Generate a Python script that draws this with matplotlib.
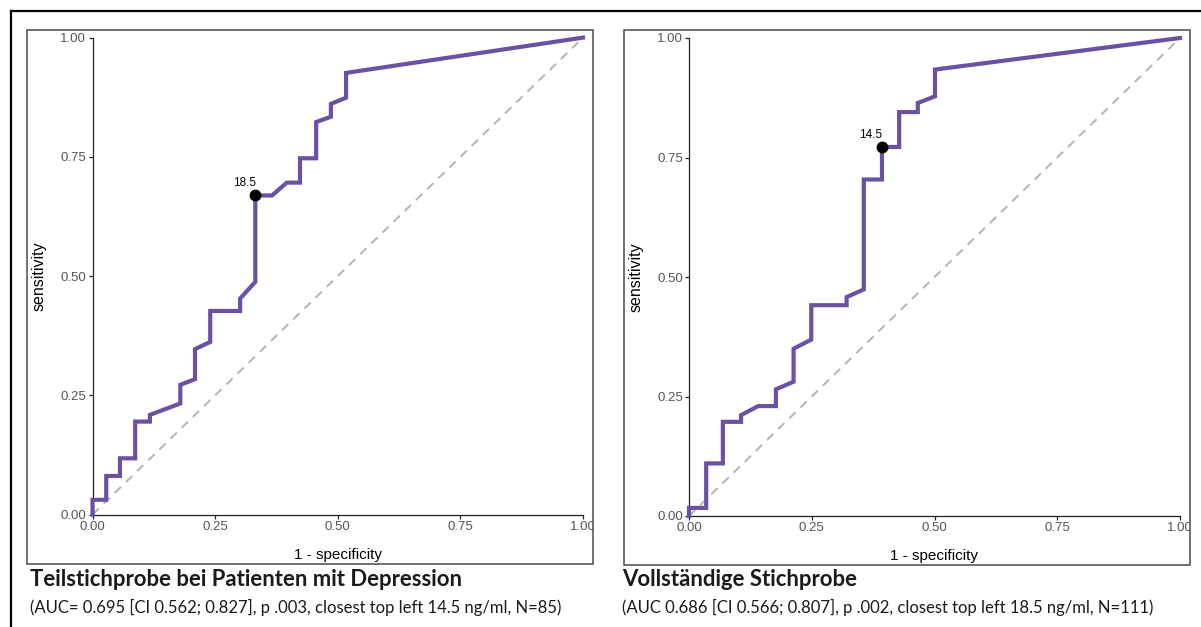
import matplotlib
matplotlib.use("Agg")
import matplotlib.pyplot as plt
from matplotlib.patches import Rectangle
from matplotlib.lines import Line2D
from matplotlib.transforms import Bbox, TransformedBbox

# ---------------- data ----------------
ticks = [0.0, 0.25, 0.5, 0.75, 1.0]
tick_labels = ["0.00", "0.25", "0.50", "0.75", "1.00"]

left_fpr = [0.0, 0.0, 0.028, 0.028, 0.056, 0.056, 0.087, 0.087, 0.117, 0.117, 0.179, 0.179,
            0.209, 0.209, 0.240, 0.240, 0.301, 0.301, 0.332, 0.332, 0.366, 0.396, 0.423,
            0.423, 0.456, 0.456, 0.486, 0.486, 0.517, 0.517, 1.0]
left_tpr = [0.0, 0.031, 0.031, 0.081, 0.081, 0.118, 0.118, 0.195, 0.195, 0.209, 0.233, 0.272,
            0.284, 0.347, 0.362, 0.427, 0.427, 0.453, 0.488, 0.669, 0.669, 0.696, 0.696,
            0.747, 0.747, 0.823, 0.834, 0.861, 0.874, 0.926, 1.0]
left_cut_fpr, left_cut_tpr, left_cut_label = 0.332, 0.669, "18.5"

right_fpr = [0.0, 0.0, 0.035, 0.035, 0.069, 0.069, 0.106, 0.106, 0.141, 0.177, 0.177, 0.213,
             0.213, 0.249, 0.249, 0.321, 0.321, 0.356, 0.356, 0.393, 0.393, 0.428, 0.428,
             0.466, 0.466, 0.501, 0.501, 1.0]
right_tpr = [0.0, 0.017, 0.017, 0.110, 0.110, 0.197, 0.197, 0.211, 0.230, 0.230, 0.265, 0.281,
             0.350, 0.369, 0.441, 0.441, 0.458, 0.474, 0.704, 0.704, 0.772, 0.772, 0.845,
             0.845, 0.864, 0.878, 0.934, 1.0]
right_cut_fpr, right_cut_tpr, right_cut_label = 0.393, 0.772, "14.5"

titles = ["Teilstichprobe bei Patienten mit Depression", "Vollständige Stichprobe"]
subtitles = ["(AUC= 0.695 [CI 0.562; 0.827], p .003, closest top left 14.5 ng/ml, N=85)",
             "(AUC 0.686 [CI 0.566; 0.807], p .002, closest top left 18.5 ng/ml, N=111)"]
xlabel = "1 - specificity"
ylabel = "sensitivity"

# ---------------- figure ----------------
W, H = 1201, 627
fig = plt.figure(figsize=(W / 100, H / 100), dpi=100)
fig.patch.set_facecolor("white")

def fx(px):
    return px / W

def fy(py):
    return 1 - py / H

# outer frame (left + top)
fig.add_artist(Line2D([fx(10.5), fx(10.5)], [0, fy(11)], color="black", lw=1.6,
                      transform=fig.transFigure))
fig.add_artist(Line2D([fx(10.5), 1.0], [fy(11), fy(11)], color="black", lw=1.6,
                      transform=fig.transFigure))

purple = "#6a51a3"
tick_font = "Liberation Sans"
cap_font = "Lato"

panels = [
    dict(frame=(27, 30, 593, 563.5), ax=(92.5, 37.6, 583, 514.6),
         fpr=left_fpr, tpr=left_tpr, cut=(left_cut_fpr, left_cut_tpr, left_cut_label),
         cap_x=30),
    dict(frame=(624, 30, 1190, 565), ax=(689, 38, 1180, 516),
         fpr=right_fpr, tpr=right_tpr, cut=(right_cut_fpr, right_cut_tpr, right_cut_label),
         cap_x=622),
]

for i, p in enumerate(panels):
    x0, y0, x1, y1 = p["frame"]
    rect = Rectangle((fx(x0), fy(y1)), fx(x1) - fx(x0), fy(y0) - fy(y1),
                     transform=fig.transFigure, fill=False, edgecolor="#4a4a4a", lw=1.1)
    fig.add_artist(rect)
    clipbox = TransformedBbox(Bbox([[fx(x0), fy(y1)], [fx(x1), fy(y0)]]), fig.transFigure)

    a0, b0, a1, b1 = p["ax"]
    ax = fig.add_axes([fx(a0), fy(b1), fx(a1) - fx(a0), fy(b0) - fy(b1)])
    ax.set_xlim(0, 1)
    ax.set_ylim(0, 1)
    ax.set_facecolor("none")
    for s in ["top", "right"]:
        ax.spines[s].set_visible(False)
    for s in ["left", "bottom"]:
        ax.spines[s].set_color("#222222")
        ax.spines[s].set_linewidth(0.9)

    ax.plot([0, 1], [0, 1], color="#b3b3b3", lw=1.4, dashes=(4.5, 3.5), zorder=2,
            clip_on=False)
    ax.plot(p["fpr"], p["tpr"], color=purple, lw=3.0, solid_joinstyle="miter",
            zorder=3, clip_on=False)
    cx, cy, clab = p["cut"]
    ax.plot([cx], [cy], "o", color="black", ms=7.5, zorder=4, clip_on=False)
    ax.annotate(clab, (cx, cy), xytext=(0.5, 6.5), textcoords="offset points",
                ha="right", va="baseline", fontsize=8.5, family=tick_font, color="black")

    ax.set_xticks(ticks)
    ax.set_xticklabels(tick_labels)
    ax.set_yticks(ticks)
    ax.set_yticklabels(tick_labels)
    ax.tick_params(axis="both", length=3, width=0.9, color="#222222", pad=1.5,
                   labelsize=9.5, labelcolor="#555555")
    for lab in ax.get_xticklabels() + ax.get_yticklabels():
        lab.set_family(tick_font)
    for t in ax.xaxis.get_major_ticks():
        t.label1.set_clip_box(clipbox)
        t.label1.set_clip_on(True)

    ax.set_xlabel(xlabel, fontsize=11, family=tick_font, color="black")
    ax.set_ylabel(ylabel, fontsize=11.5, family=tick_font, color="black")
    ax.xaxis.set_label_coords(0.5, -0.07)
    ax.yaxis.set_label_coords(-0.093, 0.5)

    fig.text(fx(p["cap_x"]), fy(580), titles[i], fontsize=15.9, fontweight="bold",
             family=cap_font, color="#1a1a1a", ha="left", va="center")
    fig.text(fx(p["cap_x"]), fy(607), subtitles[i], fontsize=12.0,
             family=cap_font, color="#1a1a1a", ha="left", va="center")

fig.savefig("out.png", dpi=100, facecolor="white")
